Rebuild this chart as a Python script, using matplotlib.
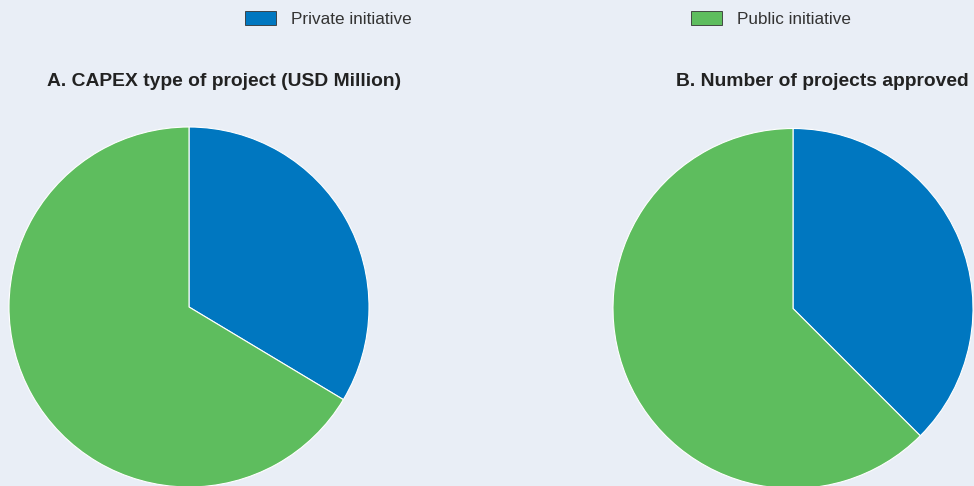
import matplotlib
matplotlib.use("Agg")
import matplotlib.pyplot as plt
from matplotlib.patches import Patch

# Shares of private vs public initiative projects
labels = ["Private initiative", "Public initiative"]
colors = ["#0077c0", "#5ebd5e"]
capex_share = [33.6, 66.4]      # CAPEX, USD million (share %)
projects_approved = [6, 10]     # number of projects

panel_titles = ["A. CAPEX type of project (USD Million)", "B. Number of projects approved"]

BG = "#e9eef6"
plt.rcParams["font.family"] = ["Liberation Sans", "DejaVu Sans"]

W, H = 974, 486
fig = plt.figure(figsize=(W / 100, H / 100), dpi=100)
fig.patch.set_facecolor(BG)

def px_axes(left, top, size):
    # axes box given in pixel coordinates (top-left origin)
    return fig.add_axes([left / W, 1 - (top + size) / H, size / W, size / H])

ax_a = px_axes(9, 127, 360)
ax_b = px_axes(613, 128.5, 360)

for ax, vals in [(ax_a, capex_share), (ax_b, projects_approved)]:
    ax.pie(vals, colors=colors, startangle=90, counterclock=False, radius=1,
           wedgeprops=dict(edgecolor="white", linewidth=0.8))
    ax.set_xlim(-1, 1)
    ax.set_ylim(-1, 1)
    ax.set_aspect("equal")
    ax.axis("off")
    for p in ax.patches:
        p.set_clip_on(False)

title_kw = dict(fontsize=13.9, fontweight="bold", color="#222222", ha="center", va="center")
fig.text(224 / W, 1 - 81 / H, panel_titles[0], **title_kw)
fig.text(822 / W, 1 - 81 / H, panel_titles[1], **title_kw)

# one legend entry per column, anchored separately
for (c, l), x0 in zip(zip(colors, labels), [245, 691]):
    h = Patch(facecolor=c, edgecolor="#333333", linewidth=0.6, label=l)
    fig.legend(handles=[h], loc="upper left",
               bbox_to_anchor=(x0 / W, 1 - 11.5 / H), frameon=False,
               fontsize=12.3, labelcolor="#333333", borderpad=0, borderaxespad=0,
               handlelength=1.81, handleheight=0.85, handletextpad=0.88)

fig.savefig("out.png", dpi=100, facecolor=BG)
